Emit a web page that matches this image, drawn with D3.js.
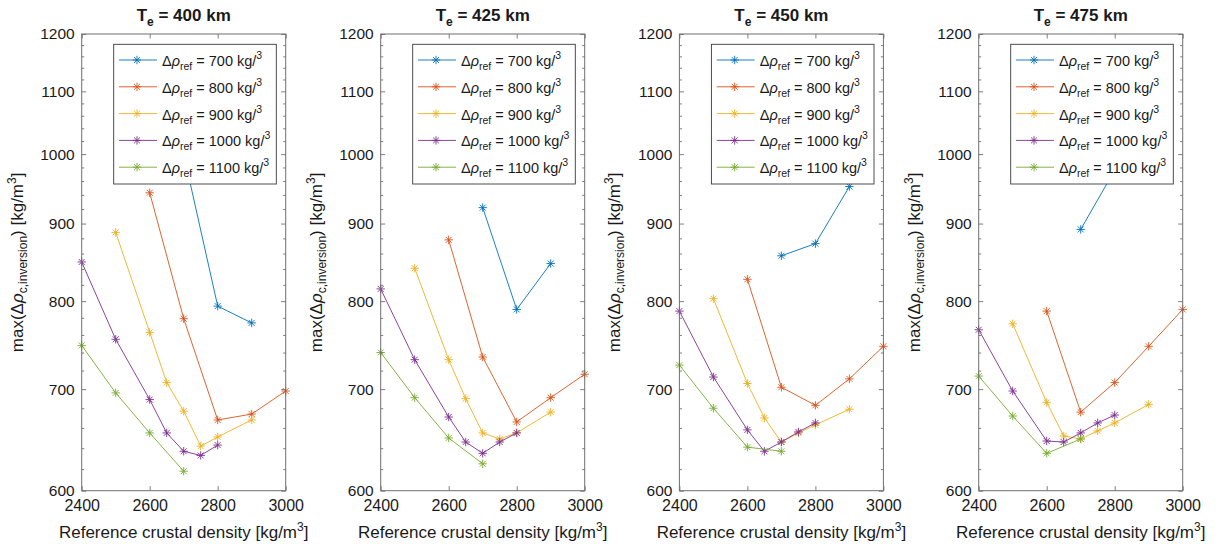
<!DOCTYPE html>
<html>
<head>
<meta charset="utf-8">
<script src="https://cdn.jsdelivr.net/npm/d3@7"></script>
<style>
  body { margin: 0; background: #fff; }
  svg { display: block; }
  text { font-family: "Liberation Sans", Arial, Helvetica, sans-serif; fill: #1a1a1a; }
</style>
</head>
<body>
<svg id="chart" width="1227" height="544"></svg>
<script>
// Elastic thickness of each panel (km) and reference density contrasts (kg/m^3)
const thicknesses = [400, 425, 450, 475];
const densityContrasts = [700, 800, 900, 1000, 1100];
const xTicks = [2400, 2600, 2800, 3000];
const yTicks = [600, 700, 800, 900, 1000, 1100, 1200];
const yMinorStep = 20;

// [reference crustal density, max(Δρ_c,inversion)] per density contrast
const te400 = [
  [[2700, 1000], [2800, 794], [2900, 774]],
  [[2600, 943], [2700, 779], [2800, 668], [2900, 674], [3000, 698]],
  [[2500, 888], [2600, 763], [2650, 707], [2700, 677], [2750, 642], [2800, 651], [2900, 668]],
  [[2400, 849], [2500, 755], [2600, 689], [2650, 655], [2700, 637], [2750, 633], [2800, 643]],
  [[2400, 748], [2500, 696], [2600, 655], [2700, 618]]
];
const te425 = [
  [[2700, 922], [2800, 790], [2900, 847]],
  [[2600, 878], [2700, 735], [2800, 666], [2900, 691], [3000, 716]],
  [[2500, 841], [2600, 732], [2650, 690], [2700, 655], [2750, 649], [2800, 655], [2900, 676]],
  [[2400, 815], [2500, 732], [2600, 671], [2650, 646], [2700, 635], [2750, 646], [2800, 655]],
  [[2400, 740], [2500, 691], [2600, 650], [2700, 625]]
];
const te450 = [
  [[2700, 857], [2800, 873], [2900, 952]],
  [[2600, 827], [2700, 702], [2800, 683], [2900, 711], [3000, 747]],
  [[2500, 803], [2600, 706], [2650, 670], [2700, 646], [2750, 655], [2800, 663], [2900, 679]],
  [[2400, 788], [2500, 713], [2600, 658], [2650, 637], [2700, 646], [2750, 656], [2800, 665]],
  [[2400, 726], [2500, 680], [2600, 641], [2700, 637]]
];
const te475 = [
  [[2700, 892], [2800, 976]],
  [[2600, 788], [2700, 676], [2800, 707], [2900, 747], [3000, 790]],
  [[2500, 773], [2600, 686], [2650, 652], [2700, 649], [2750, 657], [2800, 665], [2900, 684]],
  [[2400, 766], [2500, 698], [2600, 647], [2650, 646], [2700, 655], [2750, 665], [2800, 673]],
  [[2400, 714], [2500, 672], [2600, 635], [2700, 649]]
];
const panelData = [te400, te425, te450, te475];

const colors = ["#0072BD", "#D95319", "#EDB120", "#7E2F8E", "#77AC30"];

const svg = d3.select("#chart");
const W = 204, H = 456.7, TOP = 34;
const lefts = [81.7, 380.7, 679.4, 978.7];

// Asterisk marker: a plus overlaid with a cross
function asterisk(r) {
  const d = r * Math.SQRT1_2;
  return `M${-r},0L${r},0M0,${-r}L0,${r}M${-d},${-d}L${d},${d}M${-d},${d}L${d},${-d}`;
}

const x = d3.scaleLinear().domain([2400, 3000]).range([0, W]);
const y = d3.scaleLog().domain([600, 1200]).range([H, 0]);
const minorTicks = d3.range(600, 1200 + 1, yMinorStep).filter(v => v % 100 !== 0);

panelData.forEach((series, i) => {
  const g = svg.append("g").attr("transform", `translate(${lefts[i]},${TOP})`);

  // white plotting area
  g.append("rect").attr("width", W).attr("height", H).attr("fill", "#fff");

  const clipId = `clip${i}`;
  g.append("clipPath").attr("id", clipId)
    .append("rect").attr("x", -6).attr("y", -6).attr("width", W + 12).attr("height", H + 12);

  const plot = g.append("g").attr("clip-path", `url(#${clipId})`);
  const line = d3.line().x(d => x(d[0])).y(d => y(d[1]));

  series.forEach((pts, s) => {
    plot.append("path").datum(pts)
      .attr("d", line).attr("fill", "none")
      .attr("stroke", colors[s]).attr("stroke-width", 0.9);
    plot.selectAll(null).data(pts).join("path")
      .attr("transform", d => `translate(${x(d[0])},${y(d[1])})`)
      .attr("d", asterisk(4.2)).attr("fill", "none")
      .attr("stroke", colors[s]).attr("stroke-width", 0.9);
  });

  // Axes: major ticks pointing inward on all four sides, minor ticks on y
  const axisColor = "#6f6f6f";
  const styleAxis = sel => {
    sel.select(".domain").remove();
    sel.selectAll(".tick line").attr("stroke", axisColor).attr("stroke-width", 0.9);
  };
  g.append("g").attr("transform", `translate(0,${H})`)
    .call(d3.axisBottom(x).tickValues(xTicks).tickSize(-4.5).tickPadding(9).tickFormat(d3.format("d")))
    .call(styleAxis)
    .call(a => a.selectAll(".tick text").attr("font-size", 16).attr("fill", "#1a1a1a")
      .attr("font-family", '"Liberation Sans", Arial, sans-serif'));
  g.append("g")
    .call(d3.axisTop(x).tickValues(xTicks).tickSize(-4.5).tickFormat(""))
    .call(styleAxis);
  g.append("g")
    .call(d3.axisLeft(y).tickValues(yTicks).tickSize(-4.5).tickPadding(7).tickFormat(d3.format("d")))
    .call(styleAxis)
    .call(a => a.selectAll(".tick text").attr("font-size", 15.5).attr("fill", "#1a1a1a")
      .attr("font-family", '"Liberation Sans", Arial, sans-serif'));
  g.append("g").attr("transform", `translate(${W},0)`)
    .call(d3.axisRight(y).tickValues(yTicks).tickSize(-4.5).tickFormat(""))
    .call(styleAxis);
  g.append("g")
    .call(d3.axisLeft(y).tickValues(minorTicks).tickSize(-2.5).tickFormat(""))
    .call(styleAxis);
  g.append("g").attr("transform", `translate(${W},0)`)
    .call(d3.axisRight(y).tickValues(minorTicks).tickSize(-2.5).tickFormat(""))
    .call(styleAxis);

  g.append("rect").attr("width", W).attr("height", H)
    .attr("fill", "none").attr("stroke", axisColor).attr("stroke-width", 1);

  // Title: T_e = ... km
  const title = g.append("text").attr("x", W / 2).attr("y", -13.5)
    .attr("text-anchor", "middle").attr("font-size", 17).attr("font-weight", "bold");
  title.append("tspan").text("T");
  title.append("tspan").attr("font-size", 12).attr("dy", 5).text("e");
  title.append("tspan").attr("dy", -5).text(` = ${thicknesses[i]} km`);

  // X-axis label
  const xl = g.append("text").attr("x", W / 2).attr("y", H + 47)
    .attr("text-anchor", "middle").attr("font-size", 17);
  xl.append("tspan").text("Reference crustal density [kg/m");
  xl.append("tspan").attr("font-size", 12).attr("dy", -7).text("3");
  xl.append("tspan").attr("dy", 7).text("]");

  // Y-axis label
  const yl = g.append("text")
    .attr("transform", `translate(-59,${H / 2}) rotate(-90)`)
    .attr("text-anchor", "middle").attr("font-size", 17);
  yl.append("tspan").text("max(Δ");
  yl.append("tspan").attr("font-style", "italic").text("ρ");
  yl.append("tspan").attr("font-size", 12).attr("dy", 4).text("c,inversion");
  yl.append("tspan").attr("dy", -4).text(") [kg/m");
  yl.append("tspan").attr("font-size", 12).attr("dy", -7).text("3");
  yl.append("tspan").attr("dy", 7).text("]");

  // Legend
  const lg = g.append("g").attr("transform", "translate(32,10.3)");
  lg.append("rect").attr("width", 162.6).attr("height", 139.7)
    .attr("fill", "#fff").attr("stroke", "#3a3a3a").attr("stroke-width", 0.9);
  densityContrasts.forEach((dc, s) => {
    const ly = 15.7 + s * 26.8;
    lg.append("line").attr("x1", 5.3).attr("x2", 43.3).attr("y1", ly).attr("y2", ly)
      .attr("stroke", colors[s]).attr("stroke-width", 0.9);
    lg.append("path").attr("transform", `translate(23.3,${ly})`)
      .attr("d", asterisk(4.2)).attr("fill", "none")
      .attr("stroke", colors[s]).attr("stroke-width", 0.9);
    const t = lg.append("text").attr("x", 48.3).attr("y", ly + 6).attr("font-size", 14.5);
    t.append("tspan").text("Δ");
    t.append("tspan").attr("font-style", "italic").text("ρ");
    t.append("tspan").attr("font-size", 10.5).attr("dy", 4).text("ref");
    t.append("tspan").attr("dy", -4).text(` = ${dc} kg/`);
    t.append("tspan").attr("font-size", 10.5).attr("dy", -7).text("3");
  });
});
</script>
</body>
</html>
